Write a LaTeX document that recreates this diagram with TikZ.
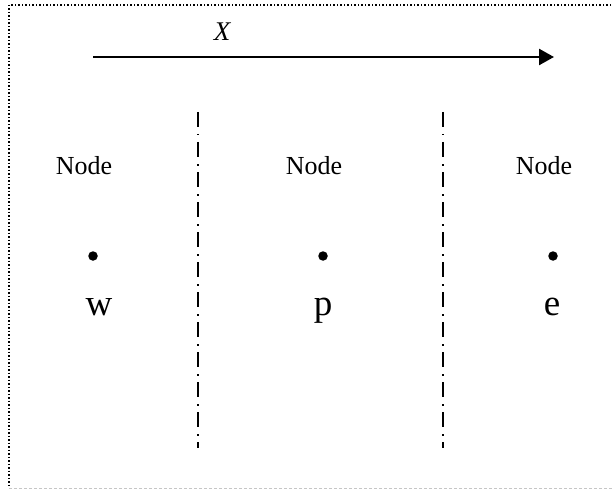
\documentclass[tikz,border=0pt]{standalone}
\usepackage{fontspec}
\setmainfont{Liberation Serif}
\usetikzlibrary{arrows.meta,positioning}
\tikzset{
  nodelabel/.style={anchor=base,inner sep=0pt,font=\fontsize{26}{30}\selectfont},
  nodename/.style={anchor=base,inner sep=0pt,font=\fontsize{37}{42}\selectfont},
  nodedot/.style={circle,fill=black,minimum size=9.5pt,inner sep=0pt},
  divider/.style={line width=1.6pt,dash pattern=on 15pt off 7pt on 1.5pt off 6.5pt},
  axisarrow/.style={-{Triangle[length=15pt,width=16pt]},line width=2.5pt}
}
\begin{document}
\begin{tikzpicture}[x=1pt,y=-1pt]
  \useasboundingbox (0,0) rectangle (612,489);
  % frame
  \draw[line width=1.5pt,dotted] (618,5) -- (9,5) -- (9,488);
  \draw[gray!45,line width=1pt,dash pattern=on 3pt off 2pt] (9,488) -- (618,488);

  % direction arrow
  \coordinate (xstart) at (93,57);
  \coordinate (xend) at (554,57);
  \draw[axisarrow] (xstart) -- (xend);
  \node[anchor=base,inner sep=0pt,font=\fontsize{27}{30}\selectfont\itshape]
    (xlab) at (222,41) {X};

  % dividers
  \coordinate (d1top) at (198,112);
  \coordinate (d1bot) at (198,448);
  \coordinate (d2top) at (443,112);
  \coordinate (d2bot) at (443,448);
  \draw[divider] (d1top) -- (d1bot);
  \draw[divider] (d2top) -- (d2bot);

  % nodes
  \node[nodelabel] (lw) at (84,174) {Node};
  \node[nodedot] (dw) at (93,256) {};
  \node[nodename] (w) at (99,315) {w};

  \node[nodelabel] (lp) at (314,174) {Node};
  \node[nodedot] (dp) at (323,256) {};
  \node[nodename] (p) at (323,315) {p};

  \node[nodelabel] (le) at (544,174) {Node};
  \node[nodedot] (de) at (553,256) {};
  \node[nodename] (e) at (552,315) {e};
\end{tikzpicture}
\end{document}
